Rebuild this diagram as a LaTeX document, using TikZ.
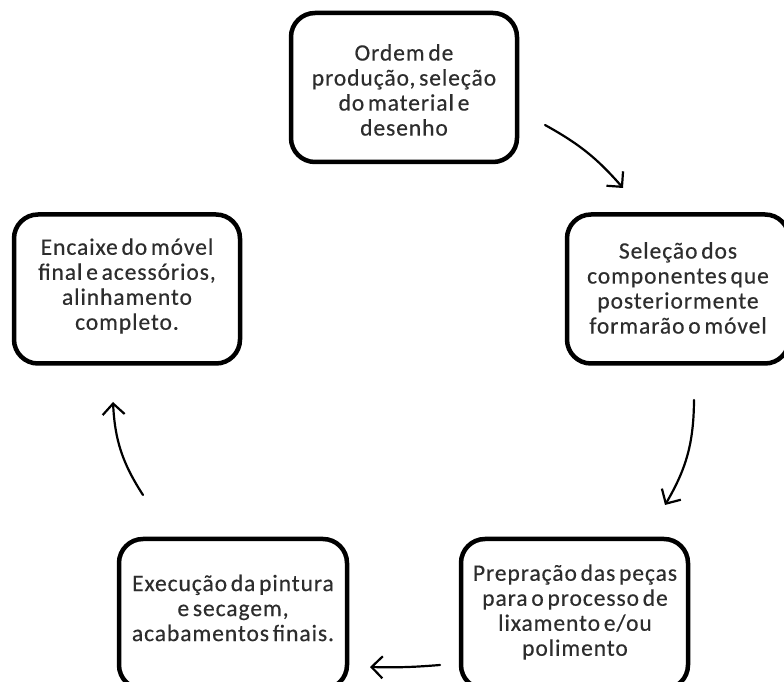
\documentclass[tikz,border=0pt]{standalone}
\usepackage{fontspec}
\setmainfont{Carlito}
\newfontfamily\boxfont{Carlito}[FakeBold=0.4, LetterSpace=4, WordSpace=0.6]
\usetikzlibrary{arrows.meta}
\definecolor{txt}{RGB}{45,45,45}
\begin{document}
\begin{tikzpicture}[x=1pt,y=1pt,
  stepbox/.style={draw=black, line width=4.5pt, rounded corners=24pt, fill=white,
    minimum width=226pt, minimum height=149pt, inner sep=0pt},
  steptext/.style={align=center, text=txt, font=\boxfont\fontsize{23.5}{25}\selectfont},
  flow/.style={line width=2.2pt, -{Straight Barb[length=11pt,width=22pt,line width=2.2pt]}, line cap=round}]
\useasboundingbox (0,0) rectangle (784,682);
\fill[white] (0,0) rectangle (784,682);
% boxes
\node[stepbox] (A) at (404,594.5) {};
\node[stepbox, minimum width=222pt] (B) at (678,393) {};
\node[stepbox, minimum width=227pt, minimum height=150pt] (C) at (574.5,68) {};
\node[stepbox, minimum width=228pt, minimum height=150pt] (D) at (233,68) {};
\node[stepbox] (E) at (127,393) {};
% texts
\node[steptext] (tA) at (404,592) {Ordem de\\produção, seleção\\do material e\\desenho};
\node[steptext] (tB) at (678,394) {Seleção dos\\componentes que\\posteriormente\\formarão o móvel};
\node[steptext] (tC) at (575,70) {Prepração das peças\\para o processo de\\lixamento e/ou\\polimento};
\node[steptext] (tD) at (233,74) {Execução da pintura\\e secagem,\\acabamentos finais.};
\node[steptext] (tE) at (127,396) {Encaixe do móvel\\final e acessórios,\\alinhamento\\completo.};
% arrow ends
\coordinate (a1) at (545,557);
\coordinate (b1) at (623,494);
\coordinate (a2) at (694,282);
\coordinate (b2) at (665,177);
\coordinate (a3) at (440,17);
\coordinate (b3) at (370,15);
\coordinate (a4) at (143,187);
\coordinate (b4) at (113,280);
\draw[flow] (a1) to[bend left=10] (b1);
\draw[flow] (a2) to[bend left=15] (b2);
\draw[flow] (a3) to[bend left=3] (b3);
\draw[flow] (a4) to[bend left=15] (b4);
\end{tikzpicture}
\end{document}
